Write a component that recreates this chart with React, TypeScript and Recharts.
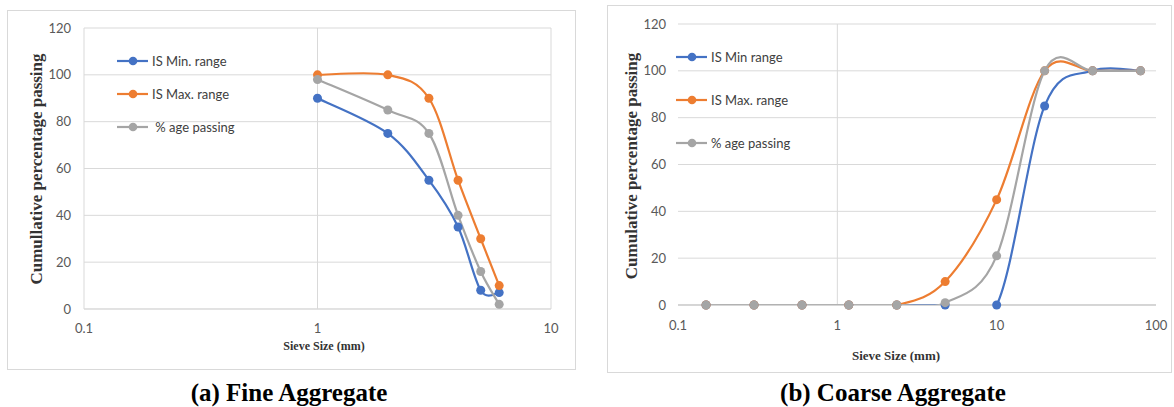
import React from "react"
import { LineChart, Line, XAxis, YAxis, CartesianGrid, Legend, ReferenceLine, Label } from "recharts"

// Fine aggregate
const fineSizes = [1, 2, 3, 4, 5, 6]
const fineMin = [90, 75, 55, 35, 8, 7]
const fineMax = [100, 100, 90, 55, 30, 10]
const finePassing = [98, 85, 75, 40, 16, 2]

// Coarse aggregate
const coarseSizes = [0.15, 0.3, 0.6, 1.18, 2.36, 4.75, 10, 20, 40, 80]
const coarseMin = [0, 0, 0, 0, 0, 0, 0, 85, 100, 100]
const coarseMax = [0, 0, 0, 0, 0, 10, 45, 100, 100, 100]
const coarsePassing = [0, 0, 0, 0, 0, 1, 21, 100, 100, 100]

const yTicks = [0, 20, 40, 60, 80, 100, 120]
const fineXTicks = [0.1, 1, 10]
const coarseXTicks = [0.1, 1, 10, 100]

const BLUE = "#4472C4"
const ORANGE = "#ED7D31"
const GRAY = "#A5A5A5"
const GRID = "#d9d9d9"
const SANS = "Lato, 'Open Sans', sans-serif"
const SERIF = "'Liberation Serif', 'Times New Roman', serif"
const KEYS = ["min", "max", "passing"]

const fineData = fineSizes.map((s, i) => ({ size: s, min: fineMin[i], max: fineMax[i], passing: finePassing[i] }))
const coarseData = coarseSizes.map((s, i) => ({ size: s, min: coarseMin[i], max: coarseMax[i], passing: coarsePassing[i] }))

// excel-like smoothed line (catmull-rom through every point)
const excelSmooth = (ctx: any) => {
    let pts: number[][] = []
    return {
        areaStart() {},
        areaEnd() {},
        lineStart() { pts = [] },
        point(x: number, y: number) { pts.push([+x, +y]) },
        lineEnd() {
            const n = pts.length
            if (!n) return
            ctx.moveTo(pts[0][0], pts[0][1])
            for (let i = 0; i < n - 1; i++) {
                const p0 = pts[Math.max(i - 1, 0)]
                const p1 = pts[i]
                const p2 = pts[i + 1]
                const p3 = pts[Math.min(i + 2, n - 1)]
                ctx.bezierCurveTo(
                    p1[0] + (p2[0] - p0[0]) / 6, p1[1] + (p2[1] - p0[1]) / 6,
                    p2[0] - (p3[0] - p1[0]) / 6, p2[1] - (p3[1] - p1[1]) / 6,
                    p2[0], p2[1]
                )
            }
        },
    }
}

function LegendBox({ payload, gap }: any) {
    const items = [...(payload || [])].sort((a: any, b: any) => KEYS.indexOf(a.dataKey) - KEYS.indexOf(b.dataKey))
    return (
        <div style={{ position: "relative" }}>
            {items.map((p: any, i: number) => (
                <div key={i} style={{ position: "absolute", top: i * gap, left: 0, height: 16, display: "flex", alignItems: "center", whiteSpace: "pre" }}>
                    <svg width={31} height={12}>
                        <line x1={0} x2={31} y1={6} y2={6} stroke={p.color} strokeWidth={2.2} />
                        <circle cx={16} cy={6} r={4.3} fill={p.color} />
                    </svg>
                    <span style={{ marginLeft: 4, fontFamily: SANS, fontSize: 13, color: "#404040" }}>{p.value}</span>
                </div>
            ))}
        </div>
    )
}

function series(names: string[]) {
    const colors = [BLUE, ORANGE, GRAY]
    return KEYS.map((k, i) => (
        <Line key={k} dataKey={k} name={names[i]} type={excelSmooth as any} stroke={colors[i]} strokeWidth={2.2}
            dot={{ r: 4.5, fill: colors[i], stroke: "none", clipDot: false } as any} activeDot={false} isAnimationActive={false} />
    ))
}

const tickStyle = { fontSize: 13, fill: "#595959", fontFamily: SANS }

function FineChart() {
    return (
        <LineChart width={569} height={360} data={fineData} margin={{ top: 18, right: 25, bottom: 0, left: 0 }}>
            <CartesianGrid stroke={GRID} strokeWidth={1} />
            <XAxis dataKey="size" type="number" scale="log" domain={[0.1, 10]} ticks={fineXTicks} allowDataOverflow
                height={61} tickLine={false} axisLine={{ stroke: GRID }} tick={tickStyle} tickMargin={9} interval={0}>
                <Label content={() => (
                    <text x={317} y={340} textAnchor="middle" fontFamily={SERIF} fontWeight="bold" fontSize={12} fill="#333">Sieve Size (mm)</text>
                )} />
            </XAxis>
            <YAxis domain={[0, 120]} ticks={yTicks} width={77} tickLine={false} axisLine={false} tick={tickStyle} tickMargin={7} interval={0} allowDataOverflow>
                <Label content={() => (
                    <text x={35} y={159} transform="rotate(-90 35 159)" textAnchor="middle" fontFamily={SERIF} fontWeight="bold" fontSize={17} fill="#333">Cumullative percentage passing</text>
                )} />
            </YAxis>
            <Legend layout="vertical" align="center" verticalAlign="middle"
                wrapperStyle={{ left: 110, top: 43, width: 200, height: 110 }}
                content={(props: any) => <LegendBox {...props} gap={33} />} />
            {series(["IS Min. range", "IS Max. range", " % age passing"])}
        </LineChart>
    )
}

function CoarseChart() {
    return (
        <LineChart width={565} height={368} data={coarseData} margin={{ top: 19, right: 16, bottom: 0, left: 0 }}>
            <CartesianGrid stroke={GRID} strokeWidth={1} vertical={false} />
            <ReferenceLine x={1} stroke={GRID} strokeWidth={1} />
            <XAxis dataKey="size" type="number" scale="log" domain={[0.1, 100]} ticks={coarseXTicks} allowDataOverflow
                height={68} tickLine={false} axisLine={{ stroke: "#bfbfbf" }} tick={tickStyle} tickMargin={10} interval={0}>
                <Label content={() => (
                    <text x={289} y={355} textAnchor="middle" fontFamily={SERIF} fontWeight="bold" fontSize={13} fill="#333">Sieve Size (mm)</text>
                )} />
            </XAxis>
            <YAxis domain={[0, 120]} ticks={yTicks} width={71} tickLine={false} axisLine={false} tick={tickStyle} tickMargin={6} interval={0} allowDataOverflow>
                <Label content={() => (
                    <text x={30} y={161} transform="rotate(-90 30 161)" textAnchor="middle" fontFamily={SERIF} fontWeight="bold" fontSize={17} fill="#333">Cumulative percentage passing</text>
                )} />
            </YAxis>
            <Legend layout="vertical" align="center" verticalAlign="middle"
                wrapperStyle={{ left: 69, top: 44, width: 200, height: 110 }}
                content={(props: any) => <LegendBox {...props} gap={43} />} />
            {series(["IS Min range", "IS Max. range", "% age passing"])}
        </LineChart>
    )
}

const captionStyle: React.CSSProperties = {
    position: "absolute", fontFamily: SERIF, fontWeight: "bold", fontSize: 25, color: "#000",
    textAlign: "center", width: 340, top: 378, lineHeight: "30px",
}

export default function App() {
    return (
        <div style={{ position: "absolute", left: 0, top: 0, width: 1174, height: 407, background: "#fff", overflow: "hidden" }}>
            <div style={{ position: "absolute", left: 7, top: 10, width: 569, height: 360, border: `1px solid ${GRID}`, boxSizing: "border-box" }} />
            <div style={{ position: "absolute", left: 7, top: 10 }}><FineChart /></div>
            <div style={{ position: "absolute", left: 607, top: 5, width: 565, height: 368, border: `1px solid ${GRID}`, boxSizing: "border-box" }} />
            <div style={{ position: "absolute", left: 607, top: 5 }}><CoarseChart /></div>
            <div style={{ ...captionStyle, left: 289 - 170 }}>(a) Fine Aggregate</div>
            <div style={{ ...captionStyle, left: 893 - 170 }}>(b) Coarse Aggregate</div>
        </div>
    )
}
